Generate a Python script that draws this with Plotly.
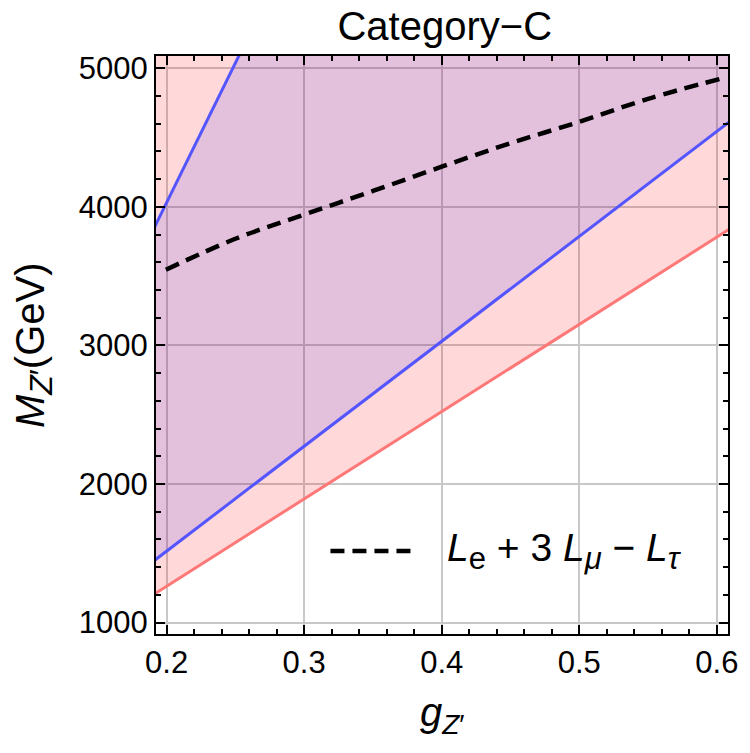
import plotly.graph_objects as go

# ---- data ----
g_edges = [0.19, 0.61]
M_red = [1200, 3845]          # lower (red) bound
M_blue_low = [1440, 4620]     # lower blue bound
M_blue_up = [3830, 12290]     # upper blue bound (leaves plot at top)
g_dash = [0.1995, 0.25, 0.30, 0.35, 0.40, 0.45, 0.50, 0.55, 0.6036]
M_dash = [3547, 3770, 3945, 4115, 4290, 4460, 4614, 4780, 4927]
x_ticks = [0.2, 0.3, 0.4, 0.5, 0.6]
y_ticks = [1000, 2000, 3000, 4000, 5000]
X_RANGE = [0.1923, 0.6081]
Y_RANGE = [918, 5089]
M_TOP = 20000

FONT = "Liberation Sans, Arial"

fig = go.Figure()

# pink region above the red line
fig.add_trace(go.Scatter(
    x=[g_edges[0], g_edges[1], g_edges[1], g_edges[0]],
    y=[M_red[0], M_red[1], M_TOP, M_TOP],
    fill="toself", fillcolor="rgba(255,0,0,0.15)",
    line=dict(width=0), mode="lines", hoverinfo="skip", showlegend=False))

# blue region between the two blue lines
fig.add_trace(go.Scatter(
    x=[g_edges[0], g_edges[1], g_edges[1], g_edges[0]],
    y=[M_blue_low[0], M_blue_low[1], M_blue_up[1], M_blue_up[0]],
    fill="toself", fillcolor="rgba(0,0,255,0.11)",
    line=dict(width=0), mode="lines", hoverinfo="skip", showlegend=False))

fig.add_trace(go.Scatter(x=g_edges, y=M_red, mode="lines",
                         line=dict(color="rgb(255,120,120)", width=3), showlegend=False))
fig.add_trace(go.Scatter(x=g_edges, y=M_blue_low, mode="lines",
                         line=dict(color="rgb(85,85,255)", width=3), showlegend=False))
fig.add_trace(go.Scatter(x=g_edges, y=M_blue_up, mode="lines",
                         line=dict(color="rgb(85,85,255)", width=3), showlegend=False))
fig.add_trace(go.Scatter(x=g_dash, y=M_dash, mode="lines", line_shape="spline",
                         line=dict(color="black", width=4.5, dash="14px,8px"), showlegend=False))

axis_common = dict(
    showline=True, linecolor="black", linewidth=2, mirror="allticks",
    ticks="inside", ticklen=9, tickwidth=1.5, tickcolor="black",
    showgrid=True, gridcolor="rgb(200,200,200)", gridwidth=1.5,
    zeroline=False,
    tickfont=dict(family=FONT, size=31, color="black"),
)

fig.update_xaxes(range=X_RANGE, tickvals=x_ticks, ticktext=[f"{v:.1f}" for v in x_ticks],
                 minor=dict(dtick=0.02, tick0=0.2, ticks="inside", ticklen=5,
                            tickwidth=1.5, tickcolor="black", showgrid=False),
                 **axis_common)
fig.update_yaxes(range=Y_RANGE, tickvals=y_ticks, ticktext=[str(v) for v in y_ticks],
                 minor=dict(dtick=200, tick0=1000, ticks="inside", ticklen=5,
                            tickwidth=1.5, tickcolor="black", showgrid=False),
                 **axis_common)

# legend drawn manually
fig.add_shape(type="line", xref="paper", yref="paper", x0=0.305, x1=0.449, y0=0.1436, y1=0.1436,
              line=dict(color="black", width=4.5, dash="14px,8px"))
sub = lambda s: f"<sub><span style='font-size:31px'>{s}</span></sub>"
fig.add_annotation(xref="paper", yref="paper", x=0.505, y=0.1436, xanchor="left", yanchor="middle",
                   showarrow=False,
                   text="<i>L</i>" + sub("e") + " + 3 <i>L</i>" + sub("<i>μ</i>") + " − <i>L</i>" + sub("<i>τ</i>"),
                   font=dict(family=FONT, size=39, color="black"))

# axis titles
fig.add_annotation(xref="paper", yref="paper", x=0.5, y=-0.14, xanchor="center", yanchor="middle",
                   showarrow=False, text="<i>g</i><sub><i>Z</i>′</sub>",
                   font=dict(family=FONT, size=40, color="black"))
fig.add_annotation(xref="paper", yref="paper", x=-0.215, y=0.5, xanchor="center", yanchor="middle",
                   showarrow=False, textangle=-90,
                   text="<i>M</i><sub><span style='font-size:32px'><i>Z</i>′</span></sub>(GeV)",
                   font=dict(family=FONT, size=40, color="black"))

fig.update_layout(
    width=750, height=753,
    margin=dict(l=156, r=17, t=56, b=119),
    paper_bgcolor="white", plot_bgcolor="white",
    title=dict(text="Category−C", x=0.593, xanchor="center", y=0.965, yanchor="middle",
               font=dict(family=FONT, size=40, color="black")),
    showlegend=False,
)

fig.write_html("out.html")
